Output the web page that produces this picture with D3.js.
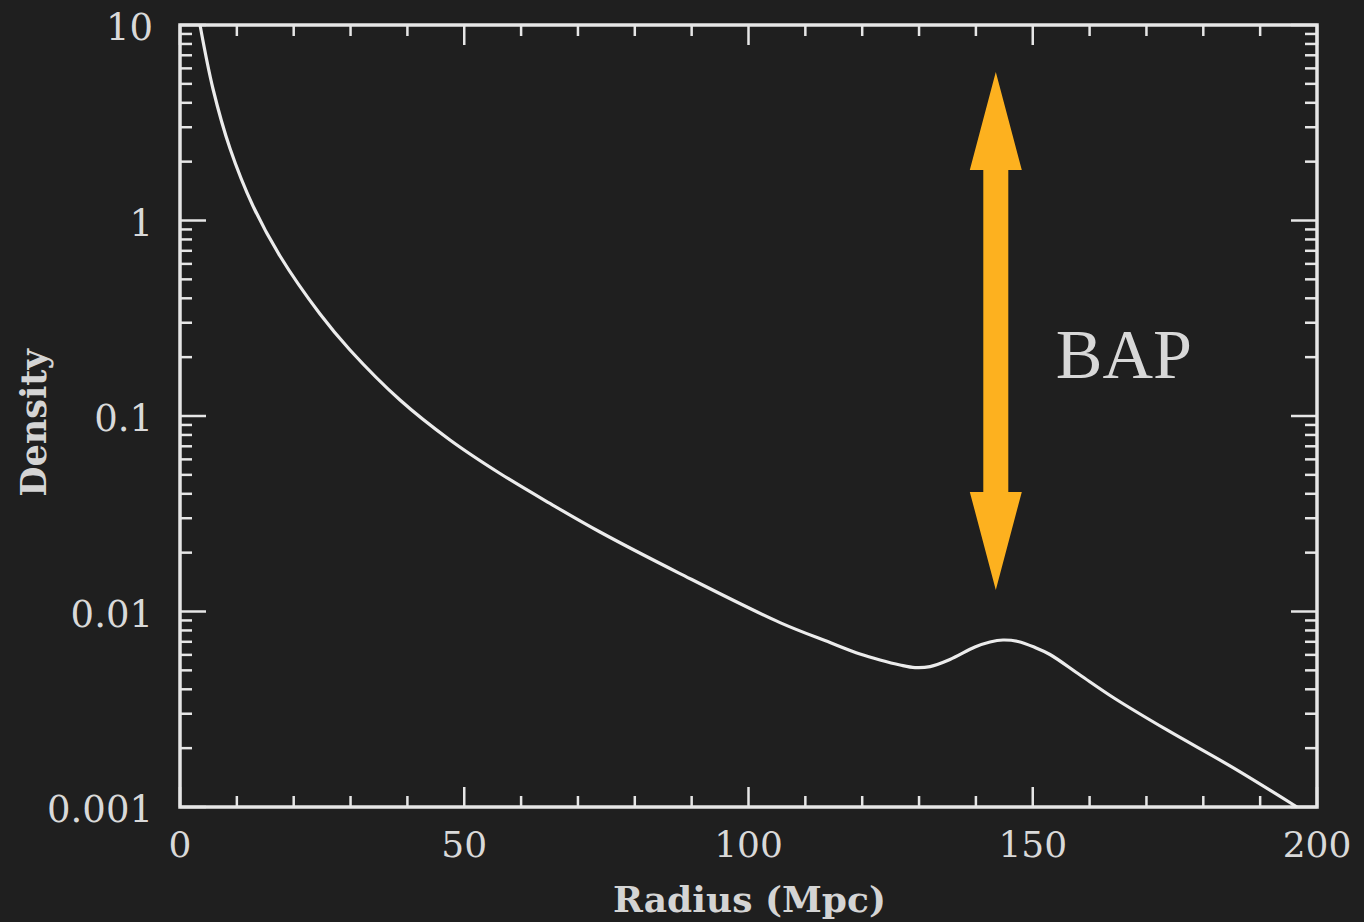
<!DOCTYPE html>
<html>
<head>
<meta charset="utf-8">
<script src="https://cdn.jsdelivr.net/npm/d3@7"></script>
<style>
  html, body { margin: 0; padding: 0; background: #1f1f1f; }
  svg { display: block; }
</style>
</head>
<body>
<svg id="chart" width="1364" height="922"></svg>
<script>
// ---- data ----
const radius  = [3.52, 5.81, 8.80, 12.84, 17.59, 24.63, 29.90, 38.70, 47.49, 56.29, 65.08, 73.88, 87.95, 105.54, 114.34, 119.61, 123.13, 126.65, 129.29, 131.93, 135.44, 139.84, 142.48, 144.77, 147.41, 150.40, 153.03, 158.31, 164.29, 173.61, 185.22, 196.48];
const density = [10, 4.706, 2.335, 1.186, 0.658, 0.3323, 0.2176, 0.1207, 0.0754, 0.0508, 0.0357, 0.0255, 0.01563, 0.008772, 0.00694, 0.006062, 0.005648, 0.005325, 0.005164, 0.005225, 0.005682, 0.006583, 0.006982, 0.007149, 0.007023, 0.006545, 0.006027, 0.004733, 0.00361, 0.002477, 0.00159, 0.001];
const xTickValues = [0, 50, 100, 150, 200];
const xTickLabels = ["0", "50", "100", "150", "200"];
const yTickValues = [10, 1, 0.1, 0.01, 0.001];
const yTickLabels = ["10", "1", "0.1", "0.01", "0.001"];
const xTitle = "Radius (Mpc)";
const yTitle = "Density";
const annotationText = "BAP";
const arrowRadius = 143.5;
const arrowTop = 5.75;
const arrowBottom = 0.0129;

// ---- layout ----
const svg = d3.select("#chart");
const L = 180, R = 1317, T = 25, B = 807;
const fg = "#e6e6e6";
const labelFont = "'DejaVu Serif', serif";

const x = d3.scaleLinear().domain([0, 200]).range([L, R]);
const y = d3.scaleLog().domain([0.001, 10]).range([B, T]);

svg.append("rect").attr("width", 1364).attr("height", 922).attr("fill", "#1f1f1f");

const g = svg.append("g");

// minor/major ticks on x (top & bottom, inward)
const xMinor = d3.range(0, 201, 10);
xMinor.forEach(v => {
  const major = xTickValues.includes(v);
  const len = major ? 20 : 11;
  g.append("line").attr("x1", x(v)).attr("x2", x(v)).attr("y1", B).attr("y2", B - len)
    .attr("stroke", fg).attr("stroke-width", 2.5);
  g.append("line").attr("x1", x(v)).attr("x2", x(v)).attr("y1", T).attr("y2", T + len)
    .attr("stroke", fg).attr("stroke-width", 2.5);
});

// log ticks on y (left & right, inward)
const yAll = [];
[0.001, 0.01, 0.1, 1].forEach(d => { for (let k = 1; k <= 9; k++) yAll.push(d * k); });
yAll.push(10);
yAll.forEach(v => {
  const major = yTickValues.some(t => Math.abs(t - v) / t < 1e-6);
  const len = major ? 26 : 12;
  g.append("line").attr("x1", L).attr("x2", L + len).attr("y1", y(v)).attr("y2", y(v))
    .attr("stroke", fg).attr("stroke-width", 2.5);
  g.append("line").attr("x1", R).attr("x2", R - len).attr("y1", y(v)).attr("y2", y(v))
    .attr("stroke", fg).attr("stroke-width", 2.5);
});

// frame
g.append("rect").attr("x", L).attr("y", T).attr("width", R - L).attr("height", B - T)
  .attr("fill", "none").attr("stroke", fg).attr("stroke-width", 3.5);

// tick labels
xTickValues.forEach((v, i) => {
  g.append("text").attr("x", x(v)).attr("y", B + 50)
    .attr("text-anchor", "middle")
    .attr("font-family", labelFont).attr("font-size", 36)
    .attr("fill", "#d9d9d9").text(xTickLabels[i]);
});
yTickValues.forEach((v, i) => {
  g.append("text").attr("x", 153).attr("y", y(v) + 15)
    .attr("text-anchor", "end")
    .attr("font-family", labelFont).attr("font-size", 37)
    .attr("fill", "#d9d9d9").text(yTickLabels[i]);
});

// axis titles
g.append("text").attr("x", (L + R) / 2 + 1).attr("y", 912)
  .attr("text-anchor", "middle")
  .attr("font-family", labelFont).attr("font-size", 36).attr("font-weight", "bold")
  .attr("fill", "#d4d4d4").text(xTitle);
g.append("text")
  .attr("transform", `translate(46, ${(T + B) / 2 + 7}) rotate(-90)`)
  .attr("text-anchor", "middle")
  .attr("font-family", labelFont).attr("font-size", 35).attr("font-weight", "bold")
  .attr("fill", "#d4d4d4").text(yTitle);

// curve
const pts = radius.map((r, i) => [r, density[i]]);
const line = d3.line().x(d => x(d[0])).y(d => y(d[1])).curve(d3.curveCatmullRom.alpha(0.5));
g.append("path").datum(pts).attr("d", line)
  .attr("fill", "none").attr("stroke", "#ececec").attr("stroke-width", 3.2)
  .attr("stroke-linejoin", "round");

// double arrow
const ax = x(arrowRadius), ay1 = y(arrowTop), ay2 = y(arrowBottom);
const headL = 98, headW = 52, shaftW = 25;
const arrow = [
  [ax, ay1],
  [ax + headW / 2, ay1 + headL],
  [ax + shaftW / 2, ay1 + headL],
  [ax + shaftW / 2, ay2 - headL],
  [ax + headW / 2, ay2 - headL],
  [ax, ay2],
  [ax - headW / 2, ay2 - headL],
  [ax - shaftW / 2, ay2 - headL],
  [ax - shaftW / 2, ay1 + headL],
  [ax - headW / 2, ay1 + headL]
];
g.append("polygon").attr("points", arrow.map(p => p.join(",")).join(" "))
  .attr("fill", "#fdb11f");

// annotation text
g.append("text").attr("x", ax + 60).attr("y", y(arrowTop) + 306)
  .attr("font-family", "'Liberation Serif', 'Times New Roman', serif").attr("font-size", 70)
  .attr("fill", "#d8d8d8").text(annotationText);
</script>
</body>
</html>
